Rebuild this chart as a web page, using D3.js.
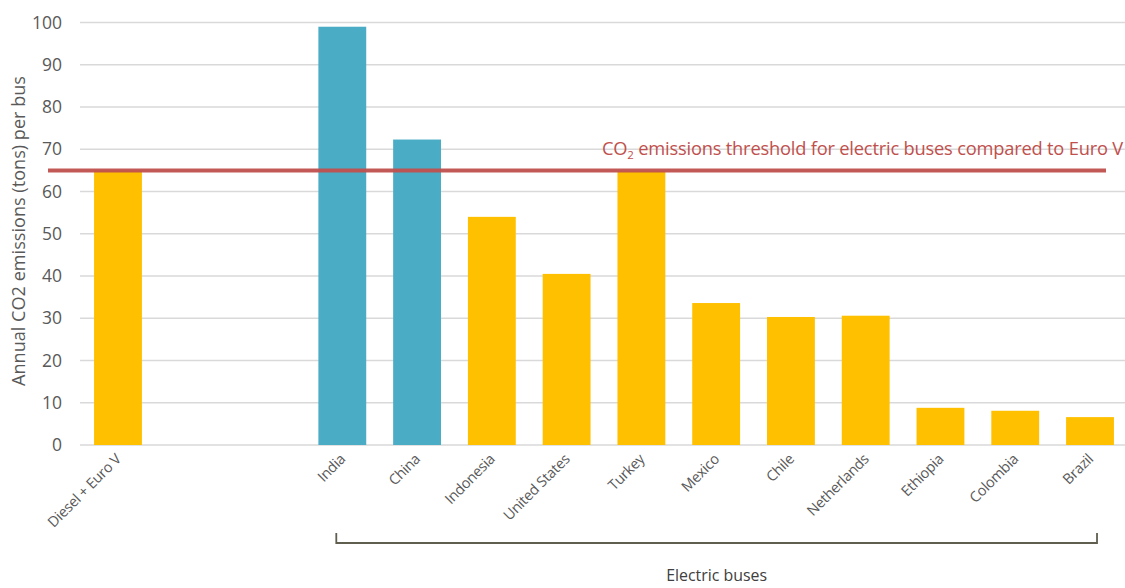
<!DOCTYPE html>
<html>
<head>
<meta charset="utf-8">
<script src="https://cdn.jsdelivr.net/npm/d3@7"></script>
<style>
  html, body { margin: 0; padding: 0; background: #fff; }
  svg { display: block; font-family: "Open Sans", "Noto Sans", sans-serif; }
</style>
</head>
<body>
<svg id="chart" width="1125" height="588"></svg>
<script>
// Categories along the x axis; the two "gap" slots leave space between the diesel reference and the electric buses
const categories = ["Diesel + Euro V", "gap1", "gap2", "India", "China", "Indonesia", "United States",
  "Turkey", "Mexico", "Chile", "Netherlands", "Ethiopia", "Colombia", "Brazil"];
// Annual CO2 emissions (tons) per bus
const emissions = [65, null, null, 99, 72.3, 54, 40.5, 64.8, 33.6, 30.3, 30.6, 8.8, 8.1, 6.6];
// Bar group: "high" = above the threshold (blue), "low" = at or below it (gold)
const groups = ["low", null, null, "high", "high", "low", "low", "low", "low", "low", "low", "low", "low", "low"];
const yTicks = [0, 10, 20, 30, 40, 50, 60, 70, 80, 90, 100];
const threshold = 65;
const thresholdLabel = ["CO", "2", " emissions threshold for electric buses compared to Euro V"];
const electricGroup = ["India", "Brazil"];
const electricLabel = "Electric buses";
const yTitle = "Annual CO2 emissions (tons) per bus";

const colors = { low: "#FFC000", high: "#4BACC6" };
const svg = d3.select("#chart");

// Scale a text element's font size so it spans the given width
function fitWidth(sel, width, base) {
  sel.attr("font-size", base);
  const w = sel.node().getComputedTextLength();
  sel.attr("font-size", base * width / w);
  return sel;
}

const x = d3.scaleBand().domain(categories).range([80.6, 1127.4]).paddingInner(0.36).paddingOuter(0.18);
const y = d3.scaleLinear().domain([0, 100]).range([445, 22.5]);

// Horizontal gridlines
svg.append("g").selectAll("line").data(yTicks).join("line")
  .attr("x1", 80).attr("x2", 1125)
  .attr("y1", d => y(d)).attr("y2", d => y(d))
  .attr("stroke", "#d9d9d9").attr("stroke-width", 1.5);

// Y axis tick labels
const yAxis = svg.append("g").attr("transform", "translate(62,0)")
  .call(d3.axisLeft(y).tickValues(yTicks).tickSize(0).tickPadding(0));
yAxis.select(".domain").remove();
yAxis.selectAll("text").attr("font-size", 17.5).attr("fill", "#595959")
  .attr("font-family", "'Open Sans', sans-serif");

// Y axis title
const yt = svg.append("text")
  .attr("transform", "translate(25,231) rotate(-90)")
  .attr("text-anchor", "middle")
  .attr("fill", "#595959")
  .text(yTitle);
fitWidth(yt, 310, 16);

// Bars
const rows = categories.map((c, i) => ({ c, v: emissions[i], g: groups[i] })).filter(d => d.v !== null);
svg.append("g").selectAll("rect").data(rows).join("rect")
  .attr("x", d => x(d.c)).attr("width", x.bandwidth())
  .attr("y", d => y(d.v)).attr("height", d => y(0) - y(d.v))
  .attr("fill", d => colors[d.g]);

// X axis category labels, rotated
svg.append("g").selectAll("text").data(rows).join("text")
  .attr("transform", d => `translate(${x(d.c) + x.bandwidth() / 2 + 4},460) rotate(-45)`)
  .attr("text-anchor", "end")
  .attr("font-size", 14.5).attr("fill", "#595959")
  .attr("letter-spacing", -0.3)
  .text(d => d.c);

// Threshold line and label
svg.append("line")
  .attr("x1", 48).attr("x2", 1106)
  .attr("y1", y(threshold)).attr("y2", y(threshold))
  .attr("stroke", "#C0504D").attr("stroke-width", 4).attr("stroke-opacity", 0.95);

const tl = svg.append("text")
  .attr("x", 1123).attr("y", 155)
  .attr("text-anchor", "end")
  .attr("font-size", 18.3).attr("fill", "#C0504D")
  .attr("letter-spacing", -0.2);
tl.append("tspan").text(thresholdLabel[0]);
tl.append("tspan").attr("font-size", 11.5).attr("dy", 4).text(thresholdLabel[1]);
tl.append("tspan").attr("dy", -4).text(thresholdLabel[2]);

// Bracket under the electric bus categories
const bx0 = x(electricGroup[0]) + x.bandwidth() / 2 - 6;
const bx1 = x(electricGroup[1]) + x.bandwidth() / 2 + 7;
svg.append("path")
  .attr("d", `M${bx0},533 V543 H${bx1} V533`)
  .attr("fill", "none").attr("stroke", "#5f5e4f").attr("stroke-width", 1.8);

const el = svg.append("text")
  .attr("x", (bx0 + bx1) / 2).attr("y", 581)
  .attr("text-anchor", "middle")
  .attr("fill", "#404040")
  .text(electricLabel);
fitWidth(el, 101, 14);
</script>
</body>
</html>
